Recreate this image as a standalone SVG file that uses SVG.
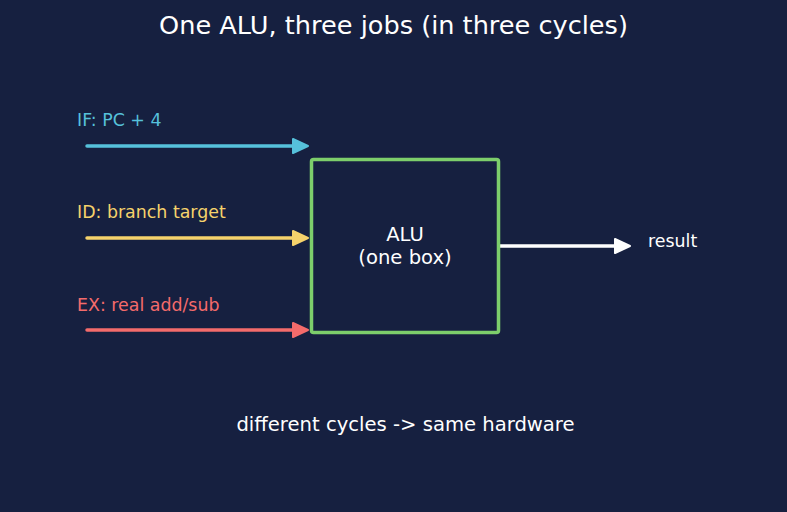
<svg xmlns="http://www.w3.org/2000/svg" width="787" height="512" viewBox="0 0 787 512">
<style>
text{font-family:"DejaVu Sans","Liberation Sans",sans-serif}
.lbl{font-size:17.4px}
.big{font-size:19.6px}
.ln{stroke-width:3.5;stroke-linecap:round;fill:none}
</style>
<rect width="787" height="512" fill="#162040"/>
<text x="393.5" y="34" font-size="25.6" fill="#ffffff" text-anchor="middle">One ALU, three jobs (in three cycles)</text>
<g id="connectors">
<line class="ln" x1="87" y1="146" x2="296" y2="146" stroke="#56c1db"/>
<path d="M293,139 L308,146 L293,153 Z" fill="#56c1db" stroke="#56c1db" stroke-linejoin="round" stroke-width="2"/>
<line class="ln" x1="87" y1="238" x2="296" y2="238" stroke="#f5d26b"/>
<path d="M293,231 L308,238 L293,245 Z" fill="#f5d26b" stroke="#f5d26b" stroke-linejoin="round" stroke-width="2"/>
<line class="ln" x1="87" y1="330" x2="296" y2="330" stroke="#f46b6b"/>
<path d="M293,323 L308,330 L293,337 Z" fill="#f46b6b" stroke="#f46b6b" stroke-linejoin="round" stroke-width="2"/>
<line class="ln" x1="500" y1="246" x2="618" y2="246" stroke="#ffffff"/>
<path d="M615,239 L630,246 L615,253 Z" fill="#ffffff" stroke="#ffffff" stroke-linejoin="round" stroke-width="2"/>
</g>
<g id="if-label"><text class="lbl" x="77" y="126" fill="#56c1db">IF: PC + 4</text></g>
<g id="id-label"><text class="lbl" x="77" y="218" fill="#f5d26b">ID: branch target</text></g>
<g id="ex-label"><text class="lbl" x="77" y="311" fill="#f46b6b">EX: real add/sub</text></g>
<g id="alu">
<rect x="311.5" y="159.5" width="187" height="173" rx="2" fill="#162040" stroke="#7dce6b" stroke-width="3.5"/>
<text class="big" x="405" y="241" fill="#ffffff" text-anchor="middle">ALU</text>
<text class="big" x="405" y="264" fill="#ffffff" text-anchor="middle">(one box)</text>
</g>
<g id="result"><text class="lbl" x="648" y="247" fill="#ffffff">result</text></g>
<text class="big" x="405.5" y="431" fill="#ffffff" text-anchor="middle">different cycles -&gt; same hardware</text>
</svg>
